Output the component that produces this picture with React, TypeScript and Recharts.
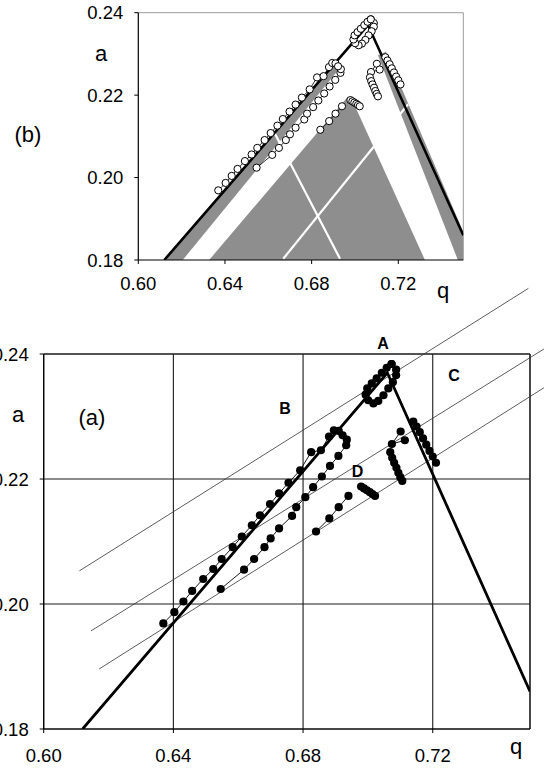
import React from 'react';
import { ComposedChart, XAxis, YAxis, Scatter, Area, ReferenceLine, CartesianGrid } from 'recharts';

type P = { q: number; a: number };
const toPts = (arr: number[][]): P[] => arr.map(([q, a]) => ({ q, a }));

// ---- axis ticks ----
const qTicks = [0.6, 0.64, 0.68, 0.72];
const aTicks = [0.18, 0.2, 0.22, 0.24];

// ---- thick boundary (two straight branches) ----
const boundary = toPts([[0.612, 0.18], [0.706, 0.237], [0.75, 0.186]]);

// ---- data chains (same in both panels) ----
const chainUpper = toPts([
  [0.6369, 0.1969], [0.6403, 0.1987], [0.6431, 0.2004], [0.6458, 0.2021], [0.6492, 0.204],
  [0.6523, 0.2056], [0.6549, 0.2072], [0.6583, 0.2091], [0.6611, 0.2108], [0.6642, 0.2126],
  [0.6667, 0.2142], [0.6698, 0.216], [0.6726, 0.2177], [0.6755, 0.2194], [0.6791, 0.2214],
  [0.6825, 0.2243], [0.6855, 0.2246], [0.688, 0.2268], [0.6895, 0.2278], [0.691, 0.2277],
]);
const chainMiddle = toPts([
  [0.6546, 0.2024], [0.6618, 0.2055], [0.6649, 0.2072], [0.6681, 0.2091], [0.67, 0.2105],
  [0.6726, 0.2121], [0.6766, 0.2141], [0.6779, 0.2155], [0.6807, 0.2171], [0.6831, 0.2187],
  [0.6858, 0.2204], [0.6883, 0.2221], [0.6909, 0.2237], [0.6933, 0.2254], [0.6935, 0.2263],
  [0.6922, 0.227],
]);
const chainLower = toPts([[0.684, 0.2116], [0.6881, 0.2137], [0.691, 0.2155], [0.694, 0.2173]]);
const tailD = toPts([
  [0.6979, 0.2188], [0.6988, 0.2185], [0.6997, 0.2182], [0.7006, 0.2179], [0.7014, 0.2176], [0.7022, 0.2173],
]);
const groupV = toPts([[0.7101, 0.2276], [0.7074, 0.2256], [0.7114, 0.2262]]);
const segVertical = toPts([
  [0.7069, 0.2243], [0.7075, 0.2234], [0.7081, 0.2226], [0.7088, 0.2218], [0.7094, 0.221],
  [0.71, 0.2203], [0.7106, 0.2197],
]);
const segRight = toPts([
  [0.714, 0.2292], [0.715, 0.2284], [0.716, 0.2275], [0.717, 0.2265], [0.718, 0.2255],
  [0.719, 0.2245], [0.72, 0.2236], [0.721, 0.2226],
]);
const loopA = toPts([
  [0.7073, 0.2384], [0.7087, 0.2375], [0.7087, 0.2366], [0.7077, 0.2355], [0.7063, 0.2345],
  [0.7048, 0.2334], [0.7032, 0.2325], [0.7017, 0.2321], [0.7001, 0.2326], [0.6993, 0.2335],
  [0.6998, 0.2345], [0.7012, 0.2353], [0.7027, 0.2361], [0.7043, 0.237], [0.7058, 0.2378],
  [0.7073, 0.2384],
]);
const allChains = [chainUpper, chainMiddle, chainLower, tailD, groupV, segVertical, segRight, loopA];

// ---- grey regions of panel (b): [lower, upper] ranges along q ----
const greyStripLeft = [
  { q: 0.612, r: [0.18, 0.18] },
  { q: 0.6205, r: [0.18, 0.1852] },
  { q: 0.6925, r: [0.2262, 0.2288] },
];
const greyTriangle = [
  { q: 0.6327, r: [0.18, 0.18] },
  { q: 0.6965, r: [0.18, 0.2195] },
  { q: 0.699, r: [0.18, 0.2185] },
  { q: 0.7323, r: [0.18, 0.18] },
];
const greyStripRight = [
  { q: 0.7106, r: [0.2297, 0.2297] },
  { q: 0.7143, r: [0.2247, 0.2305] },
  { q: 0.7475, r: [0.18, 0.1899] },
  { q: 0.75, r: [0.18, 0.1868] },
];
const whiteCut1 = [{ x: 0.6669, y: 0.1803 }, { x: 0.7245, y: 0.2178 }];
const whiteCut2 = [{ x: 0.6615, y: 0.2122 }, { x: 0.6931, y: 0.1803 }];

// ---- thin parallel lines of panel (a) ----
const thinLines = [
  [{ x: 0.611, y: 0.2053 }, { x: 0.7495, y: 0.2505 }],
  [{ x: 0.6146, y: 0.1957 }, { x: 0.7543, y: 0.2408 }],
  [{ x: 0.6171, y: 0.1896 }, { x: 0.7543, y: 0.2346 }],
];

const FONT = '"Liberation Sans", Arial, Helvetica, sans-serif';
const fmt = (v: number) => v.toFixed(2);
const tickStyle = { fill: '#000', fontSize: 18.5, fontFamily: FONT };

const openCircle = (p: any) => (
  <circle cx={p.cx} cy={p.cy} r={3.6} fill="#fff" stroke="#000" strokeWidth={1} />
);
const filledDot = (p: any) => <circle cx={p.cx} cy={p.cy} r={4.1} fill="#000" />;
const noDot = () => <g />;

function PanelB() {
  return (
    <ComposedChart width={544} height={300} margin={{ top: 12.7, right: 80.7, bottom: 10, left: 78.3 }}>
      <XAxis
        type="number" dataKey="q" domain={[0.6, 0.75]} ticks={qTicks} tickFormatter={fmt}
        allowDataOverflow interval={0} height={30} tickSize={4} tickMargin={13}
        axisLine={{ stroke: '#000', strokeWidth: 1.2 }} tickLine={{ stroke: '#000' }} tick={tickStyle}
      />
      <YAxis
        type="number" domain={[0.18, 0.24]} ticks={aTicks} tickFormatter={fmt}
        allowDataOverflow interval={0} width={60} tickSize={4} tickMargin={11}
        axisLine={{ stroke: '#000', strokeWidth: 1.2 }} tickLine={{ stroke: '#000' }} tick={tickStyle}
      />
      <Area data={greyStripLeft} dataKey="r" type="linear" stroke="none" fill="#8e8e8e" fillOpacity={1} isAnimationActive={false} />
      <Area data={greyTriangle} dataKey="r" type="linear" stroke="none" fill="#8e8e8e" fillOpacity={1} isAnimationActive={false} />
      <Area data={greyStripRight} dataKey="r" type="linear" stroke="none" fill="#8e8e8e" fillOpacity={1} isAnimationActive={false} />
      <ReferenceLine segment={whiteCut1} stroke="#fff" strokeWidth={2.2} ifOverflow="visible" />
      <ReferenceLine segment={whiteCut2} stroke="#fff" strokeWidth={2.2} ifOverflow="visible" />
      <ReferenceLine y={0.24} stroke="#9a9a9a" strokeWidth={1} ifOverflow="visible" />
      <ReferenceLine x={0.75} stroke="#9a9a9a" strokeWidth={1} ifOverflow="visible" />
      <Scatter data={boundary} dataKey="a" fill="#000" line={{ stroke: '#000', strokeWidth: 2.6 }} shape={noDot} isAnimationActive={false} />
      {allChains.map((c, i) => (
        <Scatter key={i} data={c} dataKey="a" fill="#fff" line={{ stroke: '#000', strokeWidth: 0.8 }} shape={openCircle} isAnimationActive={false} />
      ))}
    </ComposedChart>
  );
}

function PanelA() {
  return (
    <ComposedChart width={544} height={498} margin={{ top: 84, right: 14, bottom: 9, left: 3.7 }}>
      <CartesianGrid stroke="#1a1a1a" strokeWidth={1.1} fill="none" />
      <XAxis
        type="number" dataKey="q" domain={[0.6, 0.75]} ticks={qTicks} tickFormatter={fmt}
        allowDataOverflow interval={0} height={30} tickSize={4} tickMargin={16}
        axisLine={{ stroke: '#000', strokeWidth: 1.2 }} tickLine={{ stroke: '#000' }} tick={tickStyle}
      />
      <YAxis
        type="number" domain={[0.18, 0.24]} ticks={aTicks} tickFormatter={fmt}
        allowDataOverflow interval={0} width={40} tickSize={4} tickMargin={11}
        axisLine={{ stroke: '#000', strokeWidth: 1.2 }} tickLine={{ stroke: '#000' }} tick={tickStyle}
      />
      <ReferenceLine x={0.75} stroke="#1a1a1a" strokeWidth={1.1} ifOverflow="visible" />
      <ReferenceLine y={0.24} stroke="#1a1a1a" strokeWidth={1.1} ifOverflow="visible" />
      {thinLines.map((s, i) => (
        <ReferenceLine key={i} segment={s} stroke="#333" strokeWidth={0.8} ifOverflow="visible" />
      ))}
      <Scatter data={boundary} dataKey="a" fill="#000" line={{ stroke: '#000', strokeWidth: 2.8 }} shape={noDot} isAnimationActive={false} />
      {allChains.map((c, i) => (
        <Scatter key={i} data={c} dataKey="a" fill="#000" line={{ stroke: '#000', strokeWidth: 0.9 }} shape={filledDot} isAnimationActive={false} />
      ))}
    </ComposedChart>
  );
}

export default function App() {
  const t = { fontFamily: FONT, fill: '#000' } as const;
  return (
    <div style={{ position: 'absolute', left: 0, top: 0, width: 544, height: 768, background: '#fff', overflow: 'hidden' }}>
      <div style={{ position: 'absolute', left: 0, top: 0 }}>
        <PanelB />
      </div>
      <div style={{ position: 'absolute', left: 0, top: 270 }}>
        <PanelA />
      </div>
      <svg width={544} height={768} style={{ position: 'absolute', left: 0, top: 0, pointerEvents: 'none' }}>
        <text x={101} y={61} fontSize={22} textAnchor="middle" style={t}>a</text>
        <text x={28} y={142} fontSize={22} textAnchor="middle" style={t}>(b)</text>
        <text x={443} y={298} fontSize={22} textAnchor="middle" style={t}>q</text>
        <text x={18} y={422} fontSize={22} textAnchor="middle" style={t}>a</text>
        <text x={92} y={425} fontSize={22} textAnchor="middle" style={t}>(a)</text>
        <text x={516} y={754} fontSize={22} textAnchor="middle" style={t}>q</text>
        <text x={383} y={348.5} fontSize={16} fontWeight="bold" textAnchor="middle" style={t}>A</text>
        <text x={285} y={414} fontSize={16} fontWeight="bold" textAnchor="middle" style={t}>B</text>
        <text x={454} y={380.7} fontSize={16} fontWeight="bold" textAnchor="middle" style={t}>C</text>
        <text x={357.5} y={476.7} fontSize={16} fontWeight="bold" textAnchor="middle" style={t}>D</text>
      </svg>
    </div>
  );
}
